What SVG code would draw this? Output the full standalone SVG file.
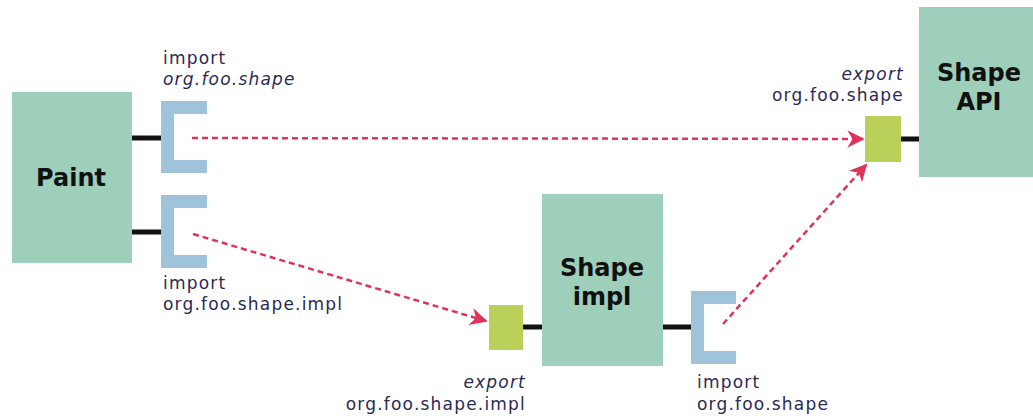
<svg xmlns="http://www.w3.org/2000/svg" width="1033" height="419" viewBox="0 0 1033 419">
<defs>
<style>
.node{fill:#9dcfbb}
.br{fill:#9fc3da}
.ex{fill:#b9d159}
.wire{stroke:#111;stroke-width:5}
.dep{stroke:#e0335b;stroke-width:2.5;stroke-dasharray:6,4;fill:none}
.nt{font-family:"DejaVu Sans",sans-serif;font-weight:bold;font-size:24px;fill:#111;text-anchor:middle}
.lb{font-family:"DejaVu Sans",sans-serif;font-size:17px;letter-spacing:1.2px;fill:#2a2a55}
.it{font-style:italic}
</style>
<marker id="ah" viewBox="0 0 10 10" refX="9" refY="5" markerWidth="8" markerHeight="7" orient="auto" markerUnits="strokeWidth">
<path d="M0,0 L10,5 L0,10 L3,5 z" fill="#e0335b"/>
</marker>
</defs>
<rect width="1033" height="419" fill="#fff"/>
<g id="connectors">
<line class="wire" x1="132" y1="138" x2="162" y2="138"/>
<line class="wire" x1="132" y1="232" x2="162" y2="232"/>
<line class="wire" x1="522" y1="327" x2="543" y2="327"/>
<line class="wire" x1="662" y1="327" x2="692" y2="327"/>
<line class="wire" x1="900" y1="139" x2="920" y2="139"/>
<line class="dep" x1="192" y1="138" x2="863" y2="139" marker-end="url(#ah)"/>
<line class="dep" x1="193" y1="234" x2="486" y2="321" marker-end="url(#ah)"/>
<line class="dep" x1="723" y1="324" x2="866" y2="165" marker-end="url(#ah)"/>
</g>
<g id="paint">
<rect class="node" x="12" y="92" width="120" height="171"/>
<text class="nt" x="71" y="186">Paint</text>
</g>
<g id="import1">
<path class="br" d="M161,101 H207 V114 H174 V160 H207 V173 H161 Z"/>
<text class="lb" x="163" y="64">import</text>
<text class="lb it" x="163" y="85">org.foo.shape</text>
</g>
<g id="import2">
<path class="br" d="M161,195 H207 V208 H174 V255 H207 V268 H161 Z"/>
<text class="lb" x="163" y="289">import</text>
<text class="lb" x="163" y="310">org.foo.shape.impl</text>
</g>
<g id="shape-impl">
<rect class="node" x="542" y="194" width="121" height="172"/>
<text class="nt" x="602" y="276">Shape</text>
<text class="nt" x="602" y="305">impl</text>
</g>
<g id="export-impl">
<rect class="ex" x="489" y="305" width="34" height="45"/>
<text class="lb it" x="526" y="388" text-anchor="end">export</text>
<text class="lb" x="526" y="410" text-anchor="end">org.foo.shape.impl</text>
</g>
<g id="import3">
<path class="br" d="M691,291 H736 V304 H704 V351 H736 V364 H691 Z"/>
<text class="lb" x="697" y="388">import</text>
<text class="lb" x="697" y="410">org.foo.shape</text>
</g>
<g id="shape-api">
<rect class="node" x="919" y="7" width="114" height="170"/>
<text class="nt" x="979" y="81">Shape</text>
<text class="nt" x="979" y="110">API</text>
</g>
<g id="export-api">
<rect class="ex" x="865" y="116" width="36" height="46"/>
<text class="lb it" x="904" y="80" text-anchor="end">export</text>
<text class="lb" x="904" y="101" text-anchor="end">org.foo.shape</text>
</g>
</svg>
